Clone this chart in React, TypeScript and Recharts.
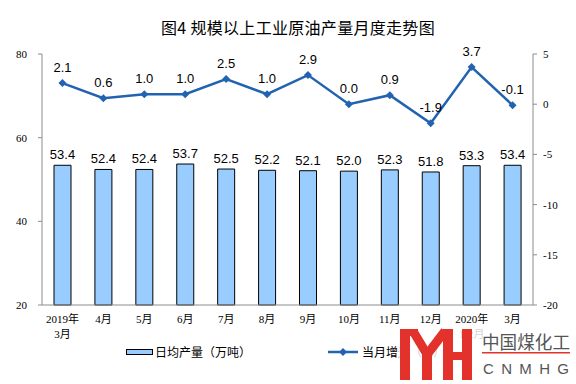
import React from "react"
import {
  ComposedChart,
  Bar,
  Line,
  XAxis,
  YAxis,
  LabelList,
} from "recharts"

const months = [
  "2019年\n3月", "4月", "5月", "6月", "7月", "8月",
  "9月", "10月", "11月", "12月", "2020年\n1-2月", "3月",
]
const dailyOutput = [53.4, 52.4, 52.4, 53.7, 52.5, 52.2, 52.1, 52.0, 52.3, 51.8, 53.3, 53.4]
const monthGrowth = [2.1, 0.6, 1.0, 1.0, 2.5, 1.0, 2.9, 0.0, 0.9, -1.9, 3.7, -0.1]
const leftTicks = [20, 40, 60, 80]
const rightTicks = [-20, -15, -10, -5, 0, 5]
const sepTicks = [0, 1, 2, 3, 4, 5, 6, 7, 8, 9, 10, 11, 12]

const data = months.map((m, i) => ({
  month: m,
  output: dailyOutput[i],
  growth: monthGrowth[i],
}))

const AXIS = "#8c8c8c"
const BAR = "#99CCFF"
const LINE = "#2163B0"
const RED = "#E2322B"
const serif = "'Liberation Serif', 'Times New Roman', 'Noto Sans CJK SC', serif"
const sans = "'Liberation Sans', Arial, 'Noto Sans CJK SC', sans-serif"
const cjk = "'Noto Sans CJK SC', sans-serif"

const MonthTick = ({ x, y, payload }: any) => {
  const lines = String(payload.value).split("\n")
  return (
    <g>
      {lines.map((t, i) => (
        <text
          key={i}
          x={x}
          y={y + 10 + i * 15}
          textAnchor="middle"
          fontSize={11}
          fontFamily={serif}
          fill="#000"
        >
          {t}
        </text>
      ))}
    </g>
  )
}

const Diamond = ({ cx, cy }: any) => {
  if (cx == null || cy == null) return <g />
  return (
    <path
      d={`M${cx},${cy - 4}L${cx + 4},${cy}L${cx},${cy + 4}L${cx - 4},${cy}Z`}
      fill={LINE}
    />
  )
}

const fmt = (v: any) => Number(v).toFixed(1)

export default function App() {
  return (
    <div style={{ position: "absolute", left: 0, top: 0, width: 576, height: 384, background: "#fff" }}>
      <div
        style={{
          position: "absolute",
          top: 17,
          left: 0,
          width: 596,
          textAlign: "center",
          fontFamily: cjk,
          fontSize: 16,
          fontWeight: 400,
          letterSpacing: 0.3,
          color: "#000",
          lineHeight: "20px",
        }}
      >
        图4 规模以上工业原油产量月度走势图
      </div>
      <ComposedChart
        width={576}
        height={384}
        data={data}
        margin={{ top: 54, right: 0, bottom: 39, left: 0 }}
      >
        <XAxis
          xAxisId="sep"
          type="number"
          domain={[0, 12]}
          ticks={sepTicks}
          allowDataOverflow
          height={0}
          axisLine={false}
          tickLine={{ stroke: AXIS }}
          tickSize={-3}
          tick={() => <g />}
        />
        <XAxis
          dataKey="month"
          interval={0}
          height={40}
          tickLine={false}
          axisLine={{ stroke: AXIS }}
          tick={<MonthTick />}
        />
        <YAxis
          yAxisId="left"
          domain={[20, 80]}
          ticks={leftTicks}
          width={42}
          axisLine={{ stroke: AXIS }}
          tickLine={{ stroke: AXIS }}
          tickSize={4}
          tickMargin={11}
          tick={{ fontSize: 11, fontFamily: serif, fill: "#000" }}
        />
        <YAxis
          yAxisId="right"
          orientation="right"
          domain={[-20, 5]}
          ticks={rightTicks}
          width={43}
          axisLine={{ stroke: AXIS }}
          tickLine={{ stroke: AXIS }}
          tickSize={4}
          tickMargin={6}
          tick={{ fontSize: 11, fontFamily: serif, fill: "#000", textAnchor: "start" }}
        />
        <Bar
          yAxisId="left"
          dataKey="output"
          barSize={17}
          fill={BAR}
          stroke="#000"
          strokeWidth={1}
          isAnimationActive={false}
        >
          <LabelList
            dataKey="output"
            position="top"
            offset={6}
            formatter={fmt}
            style={{ fontSize: 13, fontFamily: sans, fill: "#000" }}
          />
        </Bar>
        <Line
          yAxisId="right"
          dataKey="growth"
          stroke={LINE}
          strokeWidth={2.5}
          dot={<Diamond />}
          activeDot={false}
          isAnimationActive={false}
        >
          <LabelList
            dataKey="growth"
            position="top"
            offset={11}
            formatter={fmt}
            style={{ fontSize: 13, fontFamily: sans, fill: "#000" }}
          />
        </Line>
      </ComposedChart>

      {/* legend */}
      <div style={{ position: "absolute", top: 342, left: 0, width: 576, height: 20, fontFamily: cjk, fontSize: 12, color: "#000" }}>
        <div style={{ position: "absolute", left: 126, top: 7, width: 25, height: 4, background: BAR, border: "1px solid #000" }} />
        <div style={{ position: "absolute", left: 155, top: 1, lineHeight: "18px", whiteSpace: "nowrap" }}>日均产量（万吨）</div>
        <svg style={{ position: "absolute", left: 328, top: 4 }} width={32} height={12}>
          <line x1={0} y1={6} x2={30} y2={6} stroke={LINE} strokeWidth={2.5} />
          <path d="M15,2L19,6L15,10L11,6Z" fill={LINE} />
        </svg>
        <div style={{ position: "absolute", left: 362, top: 1, lineHeight: "18px", whiteSpace: "nowrap" }}>当月增速（%）</div>
      </div>

      {/* watermark */}
      <svg style={{ position: "absolute", left: 0, top: 0 }} width={576} height={384}>
        <rect x={399} y={327} width={177} height={57} fill="#fff" opacity={0.82} />
        <g fill={RED}>
          <rect x={400} y={329} width={10} height={51} />
          <rect x={400} y={329} width={18} height={7} />
          <rect x={422} y={352} width={10} height={28} />
          <rect x={443} y={329} width={10} height={51} />
          <rect x={453} y={352} width={9} height={8} />
          <rect x={462} y={329} width={10} height={51} />
        </g>
        <g stroke={RED} strokeWidth={9} strokeLinecap="butt">
          <line x1={413} y1={331} x2={428} y2={356} />
          <line x1={445} y1={331} x2={426} y2={356} />
        </g>
        <text x={482} y={349} fontFamily={cjk} fontSize={18} fill="#555" textLength={88} lengthAdjust="spacingAndGlyphs">中国煤化工</text>
        <rect x={482} y={352} width={88} height={1.5} fill={RED} />
        <text x={483} y={374} fontFamily={sans} fontSize={15} fill="#555" textLength={86} lengthAdjust="spacing">CNMHG</text>
      </svg>
    </div>
  )
}
